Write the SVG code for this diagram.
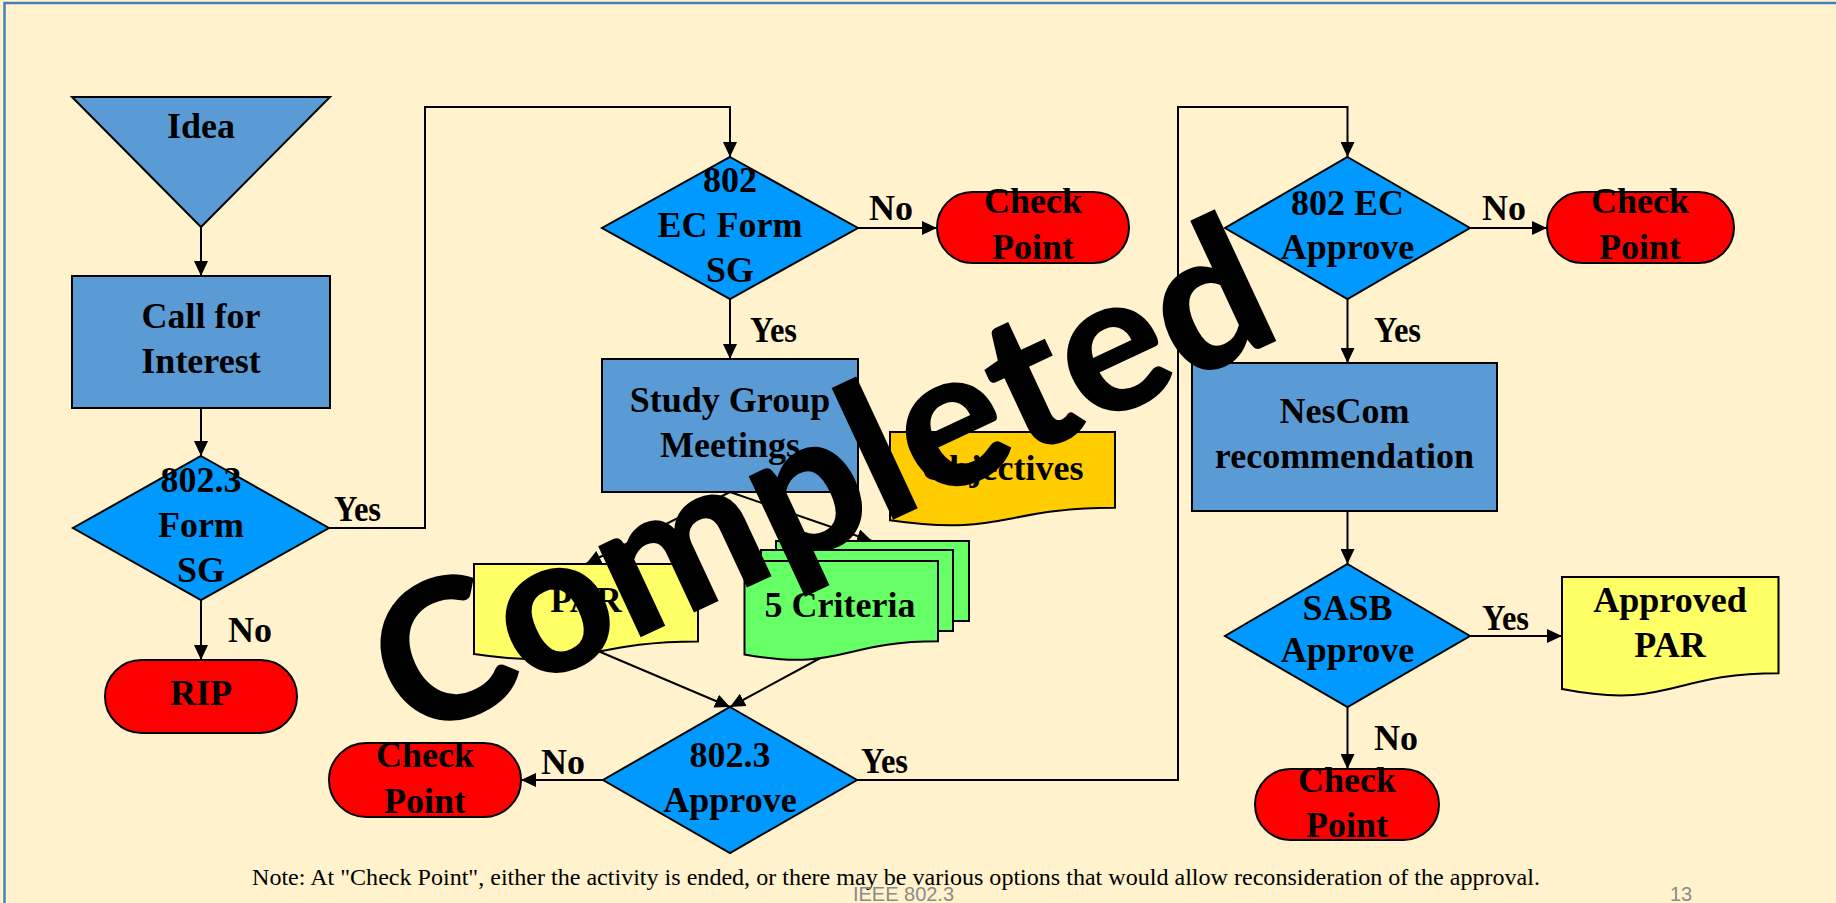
<svg xmlns="http://www.w3.org/2000/svg" width="1836" height="903" viewBox="0 0 1836 903">
<style>
.t{font-family:"Liberation Serif","Times New Roman",serif;font-weight:bold;font-size:36px;fill:#000;text-anchor:middle}
.lb{font-family:"Liberation Serif","Times New Roman",serif;font-weight:bold;font-size:36px;fill:#000}
.proc{fill:#5b9bd5;stroke:#000;stroke-width:2}
.dec{fill:#0099ff;stroke:#000;stroke-width:2}
.term{fill:#ff0000;stroke:#000;stroke-width:2}
.c{fill:none;stroke:#000;stroke-width:2}
.foot{font-family:"Liberation Sans",Arial,sans-serif;font-size:20px;fill:#8c8c8c}
</style>
<defs>
<marker id="ah" markerUnits="userSpaceOnUse" markerWidth="15" markerHeight="14" refX="15" refY="7" orient="auto">
<path d="M0,0 L15,7 L0,14 Z" fill="#000"/>
</marker>
</defs>
<rect x="0" y="0" width="1836" height="903" fill="#fff2cc"/>
<path d="M4.5,910 V3 H1840" fill="none" stroke="#4a7ebb" stroke-width="2.5"/>

<g id="connectors">
<path class="c" d="M201,227 V276" marker-end="url(#ah)"/>
<path class="c" d="M201,408 V456" marker-end="url(#ah)"/>
<path class="c" d="M329,528 H425 V107 H730 V157" marker-end="url(#ah)"/>
<path class="c" d="M201,600 V660" marker-end="url(#ah)"/>
<path class="c" d="M858,228 H937" marker-end="url(#ah)"/>
<path class="c" d="M730,299 V359" marker-end="url(#ah)"/>
<path class="c" d="M730,492 L586,564" marker-end="url(#ah)"/>
<path class="c" d="M730,492 L872,541" marker-end="url(#ah)"/>
<path class="c" d="M598,651 L730,707" marker-end="url(#ah)"/>
<path class="c" d="M826,655 L730,707" marker-end="url(#ah)"/>
<path class="c" d="M603,780 H521" marker-end="url(#ah)"/>
<path class="c" d="M857,780 H1178 V107 H1347.5 V157" marker-end="url(#ah)"/>
<path class="c" d="M1470,228 H1547" marker-end="url(#ah)"/>
<path class="c" d="M1347.5,299 V363" marker-end="url(#ah)"/>
<path class="c" d="M1347.5,511 V564" marker-end="url(#ah)"/>
<path class="c" d="M1470,636 H1562" marker-end="url(#ah)"/>
<path class="c" d="M1347.5,707 V769" marker-end="url(#ah)"/>
<text class="lb" x="334" y="521" textLength="47" lengthAdjust="spacingAndGlyphs">Yes</text>
<text class="lb" x="228" y="642">No</text>
<text class="lb" x="869" y="220">No</text>
<text class="lb" x="750" y="342" textLength="47" lengthAdjust="spacingAndGlyphs">Yes</text>
<text class="lb" x="541" y="774">No</text>
<text class="lb" x="861" y="773" textLength="47" lengthAdjust="spacingAndGlyphs">Yes</text>
<text class="lb" x="1482" y="220">No</text>
<text class="lb" x="1374" y="342" textLength="47" lengthAdjust="spacingAndGlyphs">Yes</text>
<text class="lb" x="1482" y="630" textLength="47" lengthAdjust="spacingAndGlyphs">Yes</text>
<text class="lb" x="1374" y="750">No</text>
</g>

<g id="idea">
<polygon class="proc" points="72,97 330,97 201,227"/>
<text class="t" x="201" y="138">Idea</text>
</g>
<g id="call-for-interest">
<rect class="proc" x="72" y="276" width="258" height="132"/>
<text class="t" x="201" y="328">Call for</text>
<text class="t" x="201" y="373">Interest</text>
</g>
<g id="form-sg-8023">
<polygon class="dec" points="201,456 329,528 201,600 73,528"/>
<text class="t" x="201" y="492">802.3</text>
<text class="t" x="201" y="537">Form</text>
<text class="t" x="201" y="582">SG</text>
</g>
<g id="rip">
<rect class="term" x="105" y="660" width="192" height="73" rx="36.5"/>
<text class="t" x="201" y="705">RIP</text>
</g>
<g id="ec-form-sg">
<polygon class="dec" points="730,157 858,228 730,299 602,228"/>
<text class="t" x="730" y="192">802</text>
<text class="t" x="730" y="237">EC Form</text>
<text class="t" x="730" y="282">SG</text>
</g>
<g id="checkpoint-1">
<rect class="term" x="937" y="192" width="192" height="71" rx="35.5"/>
<text class="t" x="1033" y="213">Check</text>
<text class="t" x="1033" y="259">Point</text>
</g>
<g id="study-group">
<rect class="proc" x="602" y="359" width="256" height="133"/>
<text class="t" x="730" y="412">Study Group</text>
<text class="t" x="730" y="457">Meetings</text>
</g>
<g id="objectives">
<path d="M890,432 H1115 V507.8 C1002.5,507.8 1002.5,536.7 890,520.3 Z" fill="#ffcc00" stroke="#000" stroke-width="2"/>
<text class="t" x="1002.5" y="480">Objectives</text>
</g>
<g id="par">
<path d="M474,564 H698 V641.4 C586,641.4 586,670.9 474,654.1 Z" fill="#ffff66" stroke="#000" stroke-width="2"/>
<text class="t" x="586" y="612">PAR</text>
</g>
<g id="five-criteria">
<rect x="776" y="541" width="193" height="80" fill="#66ff66" stroke="#000" stroke-width="2"/>
<rect x="761" y="550" width="192" height="81" fill="#66ff66" stroke="#000" stroke-width="2"/>
<path d="M744.5,561 H938 V641.2 C841.25,641.2 841.25,671.75 744.5,654.4 Z" fill="#66ff66" stroke="#000" stroke-width="2"/>
<text class="t" x="840" y="617">5 Criteria</text>
</g>
<g id="approve-8023">
<polygon class="dec" points="730,707 857,780 730,853 603,780"/>
<text class="t" x="730" y="767">802.3</text>
<text class="t" x="730" y="812">Approve</text>
</g>
<g id="checkpoint-2">
<rect class="term" x="329" y="743" width="192" height="74" rx="37"/>
<text class="t" x="425" y="767">Check</text>
<text class="t" x="425" y="813">Point</text>
</g>
<g id="ec-approve">
<polygon class="dec" points="1347.5,157 1470,228 1347.5,299 1225,228"/>
<text class="t" x="1347.5" y="215">802 EC</text>
<text class="t" x="1347.5" y="259">Approve</text>
</g>
<g id="checkpoint-3">
<rect class="term" x="1547" y="192" width="187" height="71" rx="35.5"/>
<text class="t" x="1640" y="213">Check</text>
<text class="t" x="1640" y="259">Point</text>
</g>
<g id="nescom">
<rect class="proc" x="1192" y="363" width="305" height="148"/>
<text class="t" x="1344.5" y="423">NesCom</text>
<text class="t" x="1344.5" y="468">recommendation</text>
</g>
<g id="sasb-approve">
<polygon class="dec" points="1347.5,564 1470,636 1347.5,707 1225,636"/>
<text class="t" x="1347.5" y="620">SASB</text>
<text class="t" x="1347.5" y="662">Approve</text>
</g>
<g id="approved-par">
<path d="M1562,577 H1778.5 V673.2 C1670.25,673.2 1670.25,709.9 1562,689.1 Z" fill="#ffff66" stroke="#000" stroke-width="2"/>
<text class="t" x="1670" y="612">Approved</text>
<text class="t" x="1670" y="657">PAR</text>
</g>
<g id="checkpoint-4">
<rect class="term" x="1255" y="769" width="184" height="71" rx="35.5"/>
<text class="t" x="1347" y="792">Check</text>
<text class="t" x="1347" y="837">Point</text>
</g>

<text x="252" y="885" font-family="Liberation Serif,'Times New Roman',serif" font-size="23" fill="#000" textLength="1288" lengthAdjust="spacingAndGlyphs">Note: At "Check Point", either the activity is ended, or there may be various options that would allow reconsideration of the approval.</text>
<text class="foot" x="853" y="901" textLength="101" lengthAdjust="spacingAndGlyphs">IEEE 802.3</text>
<text class="foot" x="1670" y="900.5">13</text>

<text x="0" y="0" transform="translate(412,744) rotate(-25)" font-family="Lato,'Open Sans',sans-serif" font-weight="900" font-size="195" fill="#000" textLength="965" lengthAdjust="spacingAndGlyphs">Completed</text>
</svg>
